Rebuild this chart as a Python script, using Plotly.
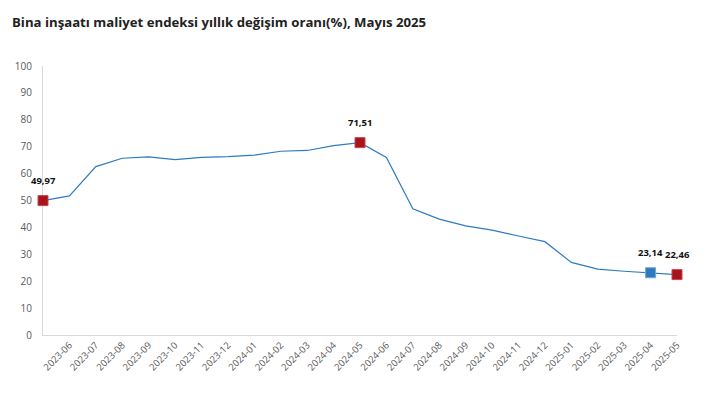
import plotly.graph_objects as go

months = ["2023-05", "2023-06", "2023-07", "2023-08", "2023-09", "2023-10", "2023-11",
          "2023-12", "2024-01", "2024-02", "2024-03", "2024-04", "2024-05", "2024-06",
          "2024-07", "2024-08", "2024-09", "2024-10", "2024-11", "2024-12", "2025-01",
          "2025-02", "2025-03", "2025-04", "2025-05"]
values = [49.97, 51.7, 62.6, 65.7, 66.2, 65.2, 66.0, 66.3, 66.9, 68.3, 68.6, 70.4, 71.51,
          66.0, 46.9, 43.1, 40.6, 39.0, 36.8, 34.7, 27.0, 24.5, 23.7, 23.14, 22.46]

red_months = ["2023-05", "2024-05", "2025-05"]
blue_months = ["2025-04"]
tick_labels = months[1:]

val = dict(zip(months, values))
fmt = lambda v: f"{v:.2f}".replace(".", ",")

fig = go.Figure()
fig.add_trace(go.Scatter(x=months, y=values, mode="lines",
                         line=dict(color="#2E7BC0", width=1.2), hoverinfo="skip"))
fig.add_trace(go.Scatter(x=red_months, y=[val[m] for m in red_months], mode="markers",
                         cliponaxis=False,
                         marker=dict(symbol="square", size=10, color="#A8141C",
                                     line=dict(color="#C8474D", width=1))))
fig.add_trace(go.Scatter(x=blue_months, y=[val[m] for m in blue_months], mode="markers",
                         cliponaxis=False,
                         marker=dict(symbol="square", size=10, color="#2E7BC0",
                                     line=dict(color="#6FA6D6", width=1))))

for m in red_months + blue_months:
    fig.add_annotation(x=m, y=val[m], text=f"<b>{fmt(val[m])}</b>", showarrow=False,
                       yshift=20, font=dict(size=9.5, color="#111", family="Open Sans"))

fig.update_layout(
    width=705, height=387,
    margin=dict(l=35, r=36, t=58, b=60),
    plot_bgcolor="white", paper_bgcolor="white",
    showlegend=False,
    font=dict(family="Open Sans", color="#595959", size=10),
    title=dict(text="<b>Bina inşaatı maliyet endeksi yıllık değişim oranı(%), Mayıs 2025</b>",
               xref="container", yref="container", x=4/705, y=1-14/387,
               xanchor="left", yanchor="middle",
               font=dict(size=13.2, color="#222", family="Open Sans")),
    xaxis=dict(type="category", range=[0, 24], tickmode="array", tickvals=tick_labels,
               ticktext=tick_labels, tickangle=-45, showline=True, linecolor="#D9D9D9",
               showgrid=False, zeroline=False, ticks="", tickfont=dict(size=9.5),
               automargin=False, layer="below traces"),
    yaxis=dict(range=[0, 100], dtick=10, showline=True, linecolor="#D9D9D9",
               showgrid=False, zeroline=False, ticks="", ticklabelstandoff=8,
               tickfont=dict(size=10), automargin=False, layer="below traces"),
)

fig.write_html("out.html")
